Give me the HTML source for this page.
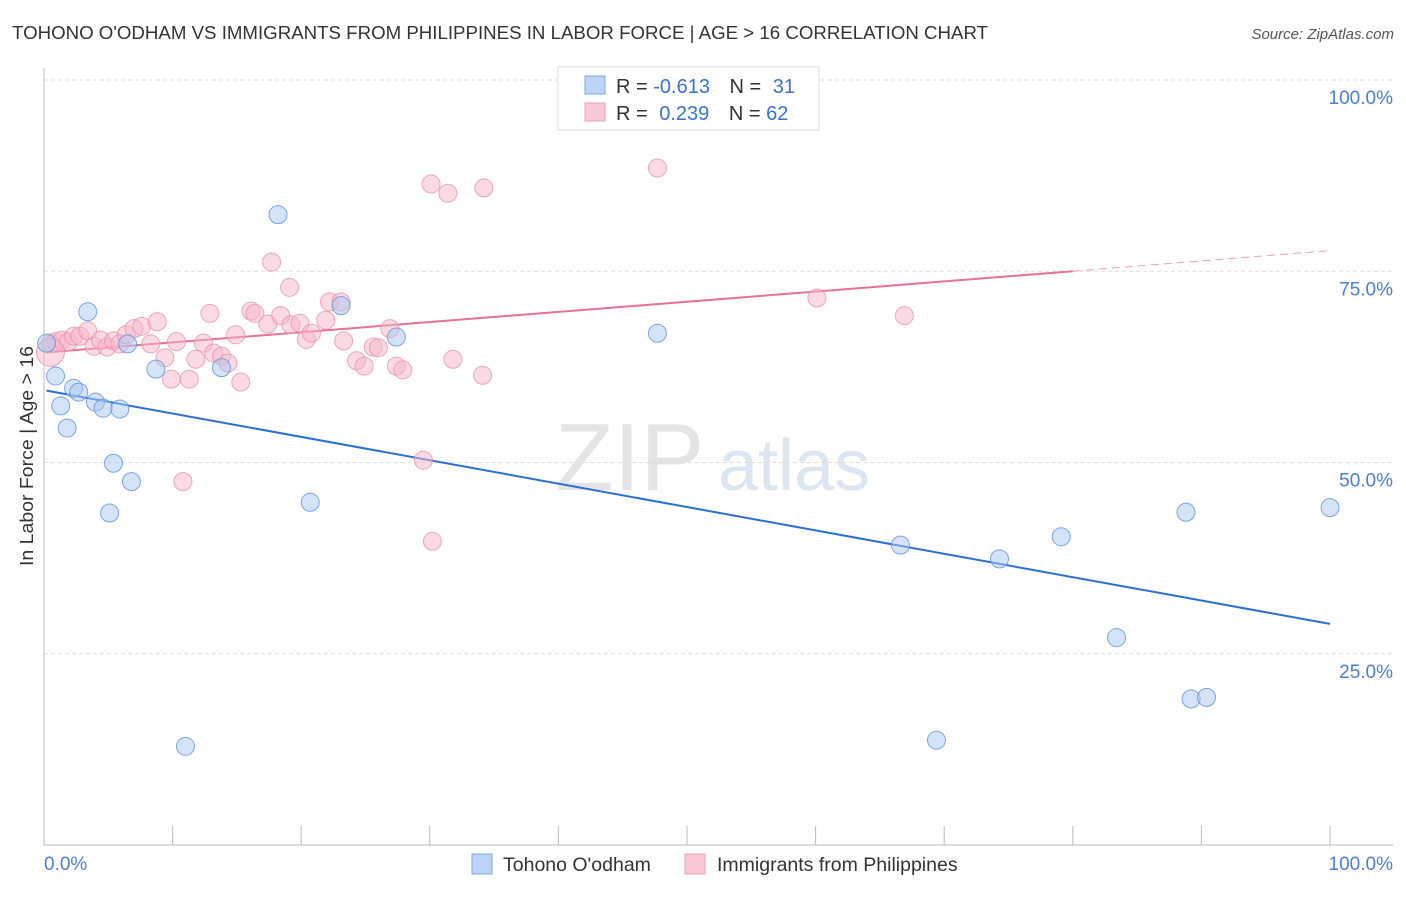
<!DOCTYPE html>
<html><head><meta charset="utf-8"><style>
body{margin:0;background:#fff;font-family:"Liberation Sans",sans-serif}
svg text{font-family:"Liberation Sans",sans-serif}
</style></head><body>
<svg id="chart" width="1406" height="892" xmlns="http://www.w3.org/2000/svg">
<text x="12" y="39" font-size="18" fill="#333" textLength="976" lengthAdjust="spacingAndGlyphs">TOHONO O'ODHAM VS IMMIGRANTS FROM PHILIPPINES IN LABOR FORCE | AGE &gt; 16 CORRELATION CHART</text>
<text x="1394" y="39" font-size="15" fill="#555" text-anchor="end" font-style="italic">Source: ZipAtlas.com</text>
<g>
<text x="555" y="490" font-size="96" fill="#e4e4e4" font-family="Liberation Serif">ZIP</text>
<text x="718" y="490" font-size="72" fill="#dce6f3">atlas</text>
</g>
<g id="grid"></g>
<g id="axes"></g>
<g id="lines"></g>
<g id="pts"></g>
<text transform="translate(33,456) rotate(-90)" font-size="18" fill="#333" text-anchor="middle" textLength="220" lengthAdjust="spacingAndGlyphs">In Labor Force | Age &gt; 16</text>
<g>
<rect x="558" y="67" width="261" height="63" fill="#fff" stroke="#ddd"/>
<rect x="585" y="76" width="20" height="18" fill="#bcd4f5" stroke="#7ea7e0"/>
<rect x="585" y="103" width="20" height="18" fill="#fac8d6" stroke="#eea0b8"/>
<text x="616" y="93" font-size="20" fill="#333">R = <tspan fill="#3a72d0">-0.613</tspan>  <tspan dx="14">N = </tspan><tspan fill="#3a72d0" dx="6">31</tspan></text>
<text x="616" y="120" font-size="20" fill="#333">R = <tspan fill="#3a72d0" dx="6">0.239</tspan>  <tspan dx="14">N = </tspan><tspan fill="#3a72d0">62</tspan></text>
</g>
<g>
<rect x="472" y="854" width="20" height="20" fill="#bcd4f5" stroke="#7ea7e0"/>
<text x="503" y="871" font-size="19.5" fill="#333">Tohono O'odham</text>
<rect x="685" y="854" width="20" height="20" fill="#fac8d6" stroke="#eea0b8"/>
<text x="717" y="871" font-size="19.5" fill="#333">Immigrants from Philippines</text>
</g>
</svg>
<script>
const yTicks=[25,50,75,100];
const yTickLabels=["25.0%","50.0%","75.0%","100.0%"];
const xTickCount=10;
const blueX=[0.2,0.9,1.3,1.8,2.3,2.7,3.4,4.0,4.6,5.4,5.1,5.9,6.5,6.8,8.7,11.0,13.8,18.2,20.7,23.1,27.4,47.7,66.6,69.4,74.3,79.1,83.4,88.8,89.2,90.4,100.0];
const blueY=[65.6,61.3,57.4,54.5,59.7,59.2,69.7,57.9,57.1,49.9,43.4,57.0,65.5,47.5,62.2,12.9,62.4,82.4,44.8,70.5,66.4,66.9,39.2,13.7,37.4,40.3,27.1,43.5,19.1,19.3,44.1];
const pinkX=[0.5,0.9,1.4,1.9,2.3,2.8,3.4,3.9,4.4,4.9,5.4,5.9,6.4,7.0,7.6,8.3,8.8,9.4,9.9,10.3,10.8,11.3,11.8,12.4,12.9,13.2,13.8,14.3,14.9,15.3,16.1,16.4,17.4,17.7,18.4,19.1,19.2,19.9,20.4,20.8,21.9,22.2,23.1,23.3,24.3,24.9,25.6,26.0,26.9,27.4,27.9,29.5,30.1,30.2,31.4,31.8,34.1,34.2,47.7,60.1,66.9,0.5];
const pinkY=[65.6,65.8,66.0,65.8,66.5,66.5,67.2,65.2,66.0,65.1,65.9,65.5,66.7,67.5,67.8,65.5,68.4,63.7,60.9,65.8,47.5,60.9,63.5,65.6,69.5,64.3,63.9,63.0,66.7,60.5,69.8,69.5,68.1,76.2,69.2,72.9,68.0,68.2,66.1,66.9,68.6,71.0,71.0,65.9,63.3,62.6,65.1,65.0,67.5,62.6,62.1,50.3,86.4,39.7,85.2,63.5,61.4,85.9,88.5,71.5,69.2,64.4];
const blueTrend=[0.2,59.4,100,28.9];
const pinkTrend=[0.2,64.4,80,75.0];
const pinkTrendDash=[80,75.0,100,77.7];
const NS="http://www.w3.org/2000/svg";
const sx=v=>44+v*12.86, sy=v=>845-v*7.65;
function mk(tag,attrs,parent){const e=document.createElementNS(NS,tag);for(const k in attrs)e.setAttribute(k,attrs[k]);document.getElementById(parent).appendChild(e);return e;}
yTicks.forEach((t,i)=>{
 const l=mk('line',{x1:44,x2:1393,y1:sy(t),y2:sy(t),stroke:'#ddd','stroke-dasharray':'4,3'},'grid');
 
 
 const tx=mk('text',{x:1393,y:sy(t)+24,'font-size':19,fill:'#4a7fd4','text-anchor':'end'},'axes');
 tx.textContent=yTickLabels[i];
 
 
});
let a=mk('line',{x1:44,x2:44,y1:68,y2:845,stroke:'#bbb'},'axes');


a=mk('line',{x1:44,x2:1393,y1:845,y2:845,stroke:'#bbb'},'axes');


for(let i=1;i<=xTickCount;i++){const x=sx(i*100/xTickCount);
 const t=mk('line',{x1:x,x2:x,y1:826,y2:845,stroke:'#bbb'},'axes');
 
 }
let xl=mk('text',{x:44,y:870,'font-size':19,fill:'#4a7fd4'},'axes');xl.textContent='0.0%';


xl=mk('text',{x:1393,y:870,'font-size':19,fill:'#4a7fd4','text-anchor':'end'},'axes');xl.textContent='100.0%';


function pts(X,Y,fill,stroke,name){X.forEach((x,i)=>{const r=(name==='pink-point'&&i===X.length-1)?14:9;
 const c=mk('circle',{cx:sx(x),cy:sy(Y[i]),r:r,fill:fill,'fill-opacity':0.5,stroke:stroke,'stroke-opacity':0.8,'stroke-width':1},'pts');
 
 });}
pts(pinkX,pinkY,'#f7b6c9','#e893ae','pink-point');
pts(blueX,blueY,'#a9c8f2','#5e92dc','blue-point');
let ln=mk('line',{x1:sx(blueTrend[0]),y1:sy(blueTrend[1]),x2:sx(blueTrend[2]),y2:sy(blueTrend[3]),stroke:'#2a6fd6','stroke-width':2},'lines');


ln=mk('line',{x1:sx(pinkTrend[0]),y1:sy(pinkTrend[1]),x2:sx(pinkTrend[2]),y2:sy(pinkTrend[3]),stroke:'#e8709a','stroke-width':2},'lines');


ln=mk('line',{x1:sx(pinkTrendDash[0]),y1:sy(pinkTrendDash[1]),x2:sx(pinkTrendDash[2]),y2:sy(pinkTrendDash[3]),stroke:'#e8a0b8','stroke-width':1,'stroke-dasharray':'8,5'},'lines');


</script>
</body></html>
